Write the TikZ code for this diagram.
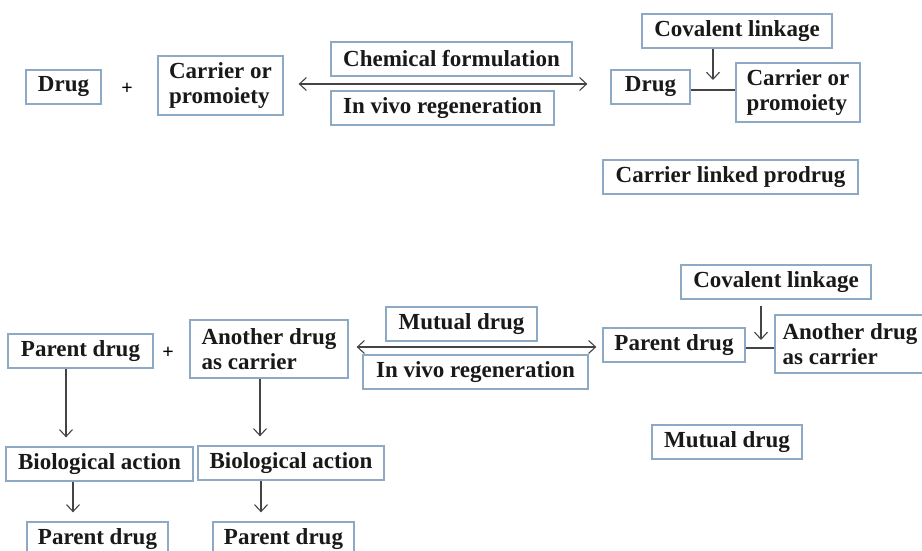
\documentclass[tikz,border=0pt]{standalone}
\usepackage{fontspec}
\setmainfont{Liberation Serif}
\usetikzlibrary{arrows.meta,calc}
\definecolor{boxc}{HTML}{8DA9C4}
\definecolor{arrc}{HTML}{444444}
\begin{document}
\begin{tikzpicture}[x=1pt,y=-1pt,
  bx/.style={draw=boxc,line width=1.3pt,fill=white,font=\fontsize{23}{25}\selectfont\bfseries,
    inner sep=0pt,align=left,text=black!90},
  arr/.style={draw=arrc,line width=1.1pt,-{Straight Barb[length=7pt,width=13pt]}},
  dbl/.style={draw=arrc,line width=1.1pt,{Straight Barb[length=7pt,width=13pt]}-{Straight Barb[length=7pt,width=13pt]}},
  lnk/.style={draw=arrc,line width=1.1pt},
  plus/.style={font=\fontsize{20}{22}\selectfont\bfseries,inner sep=0pt}]
\useasboundingbox (0,0) rectangle (922,551);
\clip (0,0) rectangle (922,551);
% ---------- top row ----------
\node[bx,minimum width=75,minimum height=34] (dr1) at (63.5,87) {Drug};
\node[plus] (p1) at (127,89) {+};
\node[bx,minimum width=125,minimum height=59] (car1) at (220.5,85.5) {Carrier or\\promoiety};
\node[bx,minimum width=241,minimum height=34] (chem) at (451.5,59) {Chemical formulation};
\node[bx,minimum width=223,minimum height=34] (ivr1) at (442.5,108) {In vivo regeneration};
\node[bx,minimum width=190,minimum height=34] (cov1) at (737,31) {Covalent linkage};
\node[bx,minimum width=79,minimum height=34] (dr2) at (650.5,87) {Drug};
\node[bx,minimum width=124,minimum height=59] (car2) at (798,92.5) {Carrier or\\promoiety};
\node[bx,minimum width=255,minimum height=34] (clp) at (730.5,177) {Carrier linked prodrug};
\coordinate (yt) at (0,84);
\draw[dbl] ([xshift=15pt]car1.east |- yt) -- ([xshift=-23pt]dr2.west |- yt);
\coordinate (j1) at (713,90);
\draw[lnk] (dr2.east |- j1) -- (car2.west |- j1);
\draw[arr] (cov1.south -| j1) -- ([yshift=10pt]j1);
% ---------- bottom row ----------
\node[bx,minimum width=145,minimum height=34] (pd1) at (80.5,351) {Parent drug};
\node[plus] (p2) at (168,353) {+};
\node[bx,minimum width=158,minimum height=58] (adc1) at (269,349) {Another drug\\as carrier};
\node[bx,minimum width=151,minimum height=34] (mut1) at (461.5,324) {Mutual drug};
\node[bx,minimum width=225,minimum height=34] (ivr2) at (475.5,372) {In vivo regeneration};
\node[bx,minimum width=142,minimum height=34] (pd2) at (674,345) {Parent drug};
\node[bx,minimum width=190,minimum height=34] (cov2) at (776,282) {Covalent linkage};
\node[bx,minimum width=150,minimum height=58] (adc2) at (850,344) {Another drug\\as carrier};
\node[bx,minimum width=150,minimum height=34] (mut2) at (727,442) {Mutual drug};
\coordinate (yb) at (0,347);
\draw[dbl] ([xshift=8pt]adc1.east |- yb) -- ([xshift=-6pt]pd2.west |- yb);
\coordinate (j2) at (761,348);
\draw[lnk] (pd2.east |- j2) -- (adc2.west |- j2);
\draw[arr] ([yshift=-6pt]cov2.south -| j2) -- ([yshift=8pt]j2);
% ---------- bottom-left cascade ----------
\node[bx,minimum width=187,minimum height=34] (bio1) at (99.5,464) {Biological action};
\node[bx,minimum width=186,minimum height=34] (bio2) at (291,463) {Biological action};
\node[bx,minimum width=141,minimum height=34] (pd3) at (97.5,539) {Parent drug};
\node[bx,minimum width=141,minimum height=34] (pd4) at (283.5,539) {Parent drug};
\coordinate (c1) at (66,0);
\coordinate (c2) at (260,0);
\coordinate (c3) at (73,0);
\coordinate (c4) at (261,0);
\draw[arr] (pd1.south -| c1) -- ([yshift=9pt]bio1.north -| c1);
\draw[arr] (adc1.south -| c2) -- ([yshift=9pt]bio2.north -| c2);
\draw[arr] (bio1.south -| c3) -- ([yshift=9pt]pd3.north -| c3);
\draw[arr] (bio2.south -| c4) -- ([yshift=9pt]pd4.north -| c4);
\end{tikzpicture}
\end{document}
